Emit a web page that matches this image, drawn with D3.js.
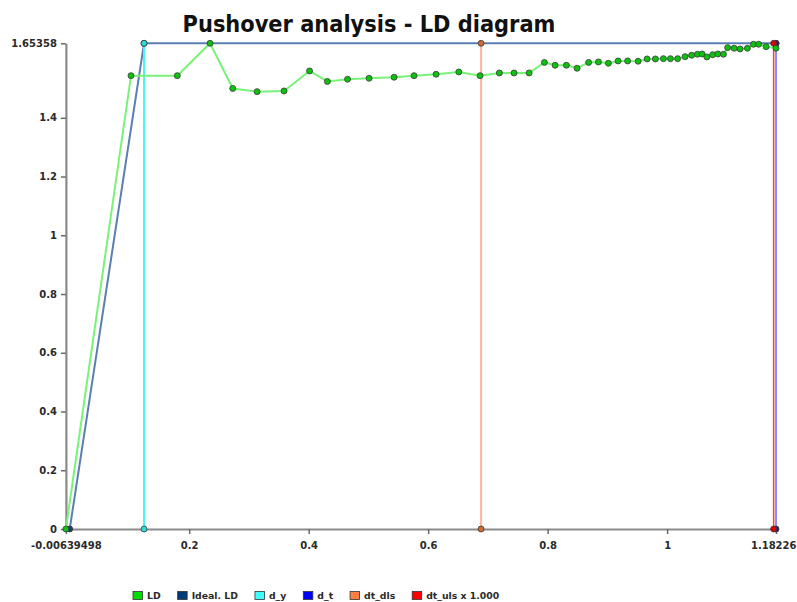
<!DOCTYPE html>
<html>
<head>
<meta charset="utf-8">
<script src="https://cdn.jsdelivr.net/npm/d3@7"></script>
<style>
  html, body { margin: 0; padding: 0; background: #ffffff; }
  svg { display: block; }
</style>
</head>
<body>
<svg id="chart" width="797" height="602"></svg>
<script>
// ---------- data ----------
const titleText = "Pushover analysis - LD diagram";

const ldX = [-0.00639498, 0.1026, 0.1801, 0.2349, 0.2729, 0.3136, 0.3588, 0.4015, 0.4313, 0.4651,
  0.5011, 0.5430, 0.5764, 0.6133, 0.6513, 0.6869, 0.7192, 0.7438, 0.7690, 0.7946,
  0.8125, 0.8314, 0.8493, 0.8686, 0.8850, 0.9017, 0.9180, 0.9339, 0.9515, 0.9665,
  0.9804, 0.9938, 1.0055, 1.0176, 1.0301, 1.0410, 1.0507, 1.0586, 1.0665, 1.0762,
  1.0849, 1.0943, 1.1013, 1.1122, 1.1222, 1.1344, 1.1445, 1.1532, 1.1657, 1.18226];
const ldY = [0, 1.5434, 1.5434, 1.65358, 1.4998, 1.4890, 1.4913, 1.5594, 1.5237, 1.5312,
  1.5346, 1.5380, 1.5434, 1.5482, 1.5560, 1.5434, 1.5526, 1.5526, 1.5526, 1.5884,
  1.5788, 1.5788, 1.5686, 1.5884, 1.5900, 1.5856, 1.5935, 1.5935, 1.5925, 1.6003,
  1.6003, 1.6013, 1.6013, 1.6013, 1.6081, 1.6129, 1.6163, 1.6173, 1.6071, 1.6149,
  1.6173, 1.6163, 1.6388, 1.6367, 1.6343, 1.6367, 1.6503, 1.6503, 1.6422, 1.6370];

const idealX = [0, 0.1244, 1.18226];
const idealY = [0, 1.65358, 1.65358];

const dyX = [0.1244, 0.1244];
const dyY = [0, 1.65358];
const dtX = [1.18226, 1.18226];
const dtY = [0, 1.65358];
const dtDlsX = [0.6886, 0.6886];
const dtDlsY = [0, 1.65358];
const dtUlsX = [1.1783, 1.1783];
const dtUlsY = [0, 1.65358];

const xTicks = [-0.00639498, 0.2, 0.4, 0.6, 0.8, 1, 1.18226];
const xTickLabels = ["-0.00639498", "0.2", "0.4", "0.6", "0.8", "1", "1.18226"];
const yTicks = [0, 0.2, 0.4, 0.6, 0.8, 1, 1.2, 1.4, 1.65358];
const yTickLabels = ["0", "0.2", "0.4", "0.6", "0.8", "1", "1.2", "1.4", "1.65358"];

const legendNames = ["LD", "Ideal. LD", "d_y", "d_t", "dt_dls", "dt_uls x 1.000"];
const legendColors = ["#00dd00", "#003a78", "#40ffff", "#0000ff", "#ff8040", "#ff0000"];

// ---------- drawing ----------
const W = 797;
const svg = d3.select("#chart");
const x = d3.scaleLinear().domain([-0.00639498, 1.18226]).range([65.9, 776]);
const y = d3.scaleLinear().domain([0, 1.65358]).range([529, 43.3]);

const toPts = (xs, ys) => xs.map((v, i) => [v, ys[i]]);
const line = d3.line().x(d => x(d[0])).y(d => y(d[1]));

// axes
const yAxis = d3.axisLeft(y).tickValues(yTicks)
  .tickFormat((d, i) => yTickLabels[i]).tickSizeInner(5).tickSizeOuter(0).tickPadding(4);
const xAxis = d3.axisBottom(x).tickValues(xTicks)
  .tickFormat((d, i) => xTickLabels[i]).tickSizeInner(5).tickSizeOuter(0).tickPadding(8);

const gy = svg.append("g").attr("transform", "translate(65.9,0)").call(yAxis);
const gx = svg.append("g").attr("transform", "translate(0,529)").call(xAxis);
[gx, gy].forEach(g => {
  g.select(".domain").attr("stroke", "#8a8a8a").attr("stroke-width", 2.2);
  g.selectAll(".tick line").attr("stroke", "#6a6a6a").attr("stroke-width", 1.5);
  g.selectAll(".tick text")
    .attr("fill", "#2a2a2a")
    .style("font-family", "'DejaVu Sans', Verdana, sans-serif")
    .style("font-weight", "bold")
    .style("font-size", "10px");
});
// keep the last x label inside the page
gx.selectAll(".tick text").each(function (d) {
  const bb = this.getBBox();
  const tx = x(d);
  const right = tx + bb.x + bb.width;
  if (right > W - 1) d3.select(this).attr("x", (W - 1) - right);
});

// vertical marker lines
const verticals = [
  {xs: dyX, ys: dyY, stroke: "#48f4f4", w: 2, mark: "#30d8d8"},
  {xs: dtDlsX, ys: dtDlsY, stroke: "#ffb69a", w: 2, mark: "#d06a30"},
  {xs: dtX, ys: dtY, stroke: "#8c8cff", w: 2, mark: "#1a1a8a"},
  {xs: dtUlsX, ys: dtUlsY, stroke: "#ff3a3a", w: 1.5, mark: "#e00000"}
];

// ideal line
svg.append("path").datum(toPts(idealX, idealY))
  .attr("d", line).attr("fill", "none")
  .attr("stroke", "#5a7fb4").attr("stroke-width", 2);

verticals.forEach(v => {
  svg.append("path").datum(toPts(v.xs, v.ys))
    .attr("d", line).attr("fill", "none")
    .attr("stroke", v.stroke).attr("stroke-width", v.w);
});

// LD line
svg.append("path").datum(toPts(ldX, ldY))
  .attr("d", line).attr("fill", "none")
  .attr("stroke", "#7af27a").attr("stroke-width", 2);

// markers
function markers(pts, fill) {
  svg.append("g").selectAll("circle").data(pts).join("circle")
    .attr("cx", d => x(d[0])).attr("cy", d => y(d[1])).attr("r", 3)
    .attr("fill", fill).attr("stroke", "#3a3a3a").attr("stroke-width", 0.8);
}
markers(toPts(idealX, idealY), "#1a3a7a");
verticals.forEach(v => markers(toPts(v.xs, v.ys), v.mark));
markers(toPts(ldX, ldY), "#10c010");

// title
const title = svg.append("text")
  .attr("x", 369).attr("y", 32)
  .attr("text-anchor", "middle")
  .attr("fill", "#111")
  .style("font-family", "Tahoma, 'DejaVu Sans Condensed', 'DejaVu Sans', sans-serif")
  .style("font-weight", "bold")
  .style("font-size", "23px")
  .text(titleText);
const tw = title.node().getComputedTextLength();
if (tw > 0) title.style("font-size", (23 * 373 / tw).toFixed(2) + "px");

// legend
const lg = svg.append("g");
let lx = 133;
legendNames.forEach((name, i) => {
  lg.append("rect").attr("x", lx).attr("y", 591.5).attr("width", 9.5).attr("height", 8)
    .attr("fill", legendColors[i]).attr("stroke", "#333").attr("stroke-width", 0.8);
  const t = lg.append("text").attr("x", lx + 14).attr("y", 599)
    .attr("fill", "#2a2a2a")
    .style("font-family", "'DejaVu Sans', Verdana, sans-serif")
    .style("font-weight", "bold").style("font-size", "9.3px")
    .text(name);
  lx += 14 + t.node().getComputedTextLength() + 17;
});
</script>
</body>
</html>
